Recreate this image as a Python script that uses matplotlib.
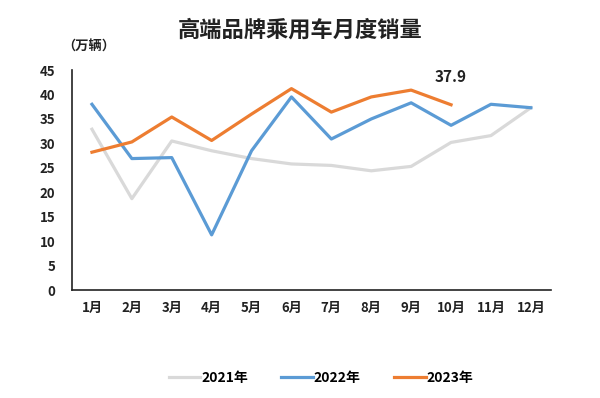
import matplotlib
matplotlib.use("Agg")
import matplotlib.pyplot as plt

plt.rcParams['font.family'] = ['Noto Sans CJK SC', 'DejaVu Sans']

months = ['1月', '2月', '3月', '4月', '5月', '6月', '7月', '8月', '9月', '10月', '11月', '12月']
sales_2021 = [32.9, 18.7, 30.5, 28.5, 26.9, 25.8, 25.5, 24.4, 25.3, 30.2, 31.6, 37.3]
sales_2022 = [38.0, 26.9, 27.1, 11.3, 28.5, 39.5, 30.9, 35.0, 38.3, 33.7, 38.0, 37.3]
sales_2023 = [28.2, 30.3, 35.4, 30.6, 36.0, 41.2, 36.4, 39.5, 40.9, 37.9]
yticks = [0, 5, 10, 15, 20, 25, 30, 35, 40, 45]

fig = plt.figure(figsize=(6, 3.98), dpi=100)
ax = fig.add_axes([0.12, 0.271, 0.798, 0.553])

x = list(range(1, 13))
ax.plot(x, sales_2021, color='#d9d9d9', lw=2.3, label='2021年', solid_joinstyle='round')
ax.plot(x, sales_2022, color='#5b9bd5', lw=2.3, label='2022年', solid_joinstyle='round')
ax.plot(x[:len(sales_2023)], sales_2023, color='#ed7d31', lw=2.3, label='2023年',
        solid_joinstyle='round')

# label the latest 2023 value
ax.annotate('{:.1f}'.format(sales_2023[-1]), (len(sales_2023), sales_2023[-1]),
            xytext=(0, 14), textcoords='offset points', ha='center', va='bottom',
            fontsize=11, fontweight='bold', color='#222222')

ax.set_xlim(0.5, 12.5)
ax.set_ylim(0, 45)
ax.set_xticks(x)
ax.set_xticklabels(months)
ax.set_yticks(yticks)
ax.tick_params(length=0, labelsize=9.5, pad=8, colors='#222222')
for lab in ax.get_xticklabels() + ax.get_yticklabels():
    lab.set_fontweight('bold')
ax.tick_params(axis='y', pad=12)

for s in ['top', 'right']:
    ax.spines[s].set_visible(False)
for s in ['left', 'bottom']:
    ax.spines[s].set_color('#222222')
    ax.spines[s].set_linewidth(1.2)

fig.text(0.5, 0.925, '高端品牌乘用车月度销量', ha='center', va='center',
         fontsize=16, fontweight='bold', color='#222222')
fig.text(0.148, 0.882, '（万辆）', ha='center', va='center',
         fontsize=9.5, fontweight='bold', color='#222222')

fig.legend(loc='center', bbox_to_anchor=(0.535, 0.05), ncol=3, frameon=False,
           handlelength=2.3, handletextpad=0.05, columnspacing=2.4,
           prop={'weight': 'bold', 'size': 10})

fig.savefig('out.png', dpi=100, facecolor='white')
